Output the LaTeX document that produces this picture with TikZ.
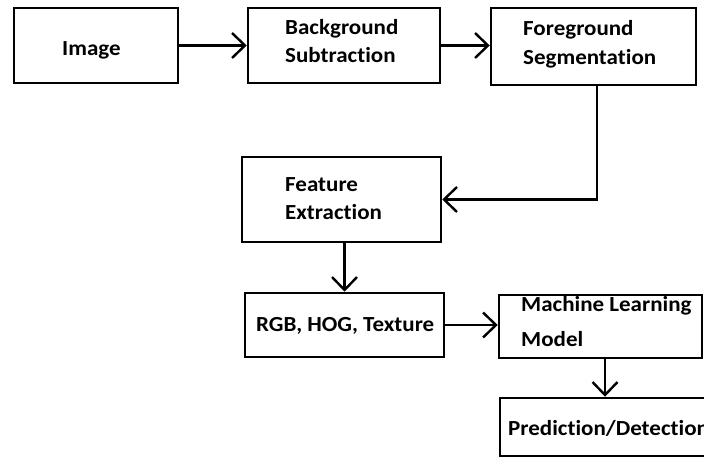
\documentclass[tikz,border=0pt]{standalone}
\usepackage{fontspec}
\setmainfont{Carlito}[FakeStretch=1.07, Ligatures=NoCommon]
\usetikzlibrary{arrows.meta,calc}

\tikzset{
  box/.style={draw=black, line width=2.5bp, rectangle, inner sep=0pt},
  lbl/.style={font=\fontsize{21.5bp}{28bp}\selectfont\bfseries, inner sep=0pt, align=left, anchor=base west},
  flow/.style={draw=black, line width=2.4bp,
    -{Straight Barb[length=13bp, width=25bp, line width=2.4bp]}},
}

\begin{document}
\begin{tikzpicture}[x=1bp, y=-1bp]
  \useasboundingbox (0,0) rectangle (704,457);
  \fill[white] (0,0) rectangle (704,457);

  % boxes
  \node[box, minimum width=164bp, minimum height=75bp] (img) at (96,45.5) {};
  \node[box, minimum width=192bp, minimum height=75bp] (bg)  at (344,45.5) {};
  \node[box, minimum width=205bp, minimum height=77bp] (fg)  at (593.5,46.5) {};
  \node[box, minimum width=199bp, minimum height=85bp] (fe)  at (341.5,199.5) {};
  \node[box, minimum width=199bp, minimum height=64bp] (rgb) at (344.5,325) {};
  \node[box, minimum width=203bp, minimum height=63bp] (ml)  at (600.5,326.5) {};
  \node[box, minimum width=260bp, minimum height=58bp] (pd)  at (630,427) {};

  % labels (anchored on the baseline of their last line)
  \node[lbl] (timg) at (62,56) {Image};
  \node[lbl] (tbg)  at (285,63) {Background\\Subtraction};
  \node[lbl] (tfg)  at (523,65) {Foreground\\[1bp]Segmentation};
  \node[lbl] (tfe)  at (285,220) {Feature\\Extraction};
  \node[lbl] (trgb) at (256,332) {RGB, HOG, Texture};
  \node[lbl] (tml)  at (521,347) {Machine Learning\\[7bp]Model};
  \node[lbl] (tpd)  at (508,435) {Prediction/Detection};

  % connectors
  \draw[flow] (img.east) -- (bg.west);
  \draw[flow] (bg.east) -- (bg.east -| fg.west);
  \coordinate (fgout) at ([xshift=3.5bp]fg.south);
  \draw[flow] (fgout) |- (fe.east);
  \coordinate (feout) at (rgb.north |- fe.south);
  \draw[flow] (feout) -- (rgb.north);
  \draw[flow] (rgb.east) -- (rgb.east -| ml.west);
  \coordinate (mlout) at ([xshift=4.5bp]ml.south);
  \draw[flow] (mlout) -- (mlout |- pd.north);
\end{tikzpicture}
\end{document}
